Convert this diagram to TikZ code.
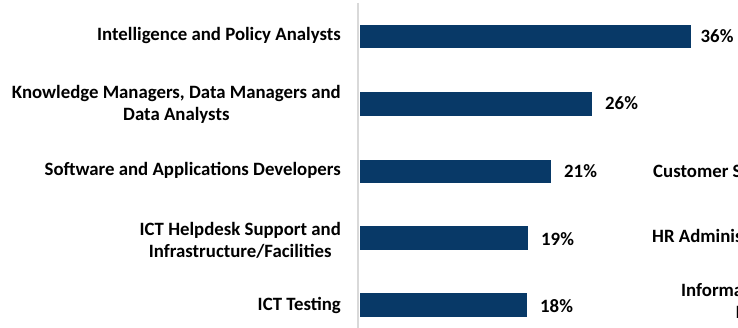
\documentclass[tikz,border=0pt]{standalone}
\usepackage{fontspec}
\setmainfont{Carlito}
\definecolor{barblue}{RGB}{8,57,103}
\definecolor{axisgray}{RGB}{217,217,217}
\begin{document}
\begin{tikzpicture}[x=1pt,y=-1pt,
  txt/.style={font=\fontsize{18.8}{22.5}\selectfont\bfseries, inner sep=0pt, align=center, text=black},
  bar/.style={fill=barblue, draw=none, inner sep=0pt, minimum height=23.5pt, anchor=west},
  pct/.style={txt, anchor=base west}]
\useasboundingbox (0,0) rectangle (738,328);
\clip (0,0) rectangle (738,328);
% axis
\coordinate (axtop) at (358,3);
\coordinate (axbot) at (358,328);
\draw[axisgray, line width=2pt] (axtop) -- (axbot);
% bars
\node[bar, minimum width=331pt] (b1) at (360,36.5) {};
\node[bar, minimum width=232pt] (b2) at (360,104) {};
\node[bar, minimum width=191pt] (b3) at (360,171.5) {};
\node[bar, minimum width=168pt] (b4) at (360,238) {};
\node[bar, minimum width=167pt] (b5) at (360,305) {};
% values
\node[pct] (v1) at (700.5,43) {36\%};
\node[pct] (v2) at (605,110) {26\%};
\node[pct] (v3) at (564,178) {21\%};
\node[pct] (v4) at (541,245.7) {19\%};
\node[pct] (v5) at (540,312.3) {18\%};
% category labels
\node[txt, anchor=base east] (l1) at (341,41) {Intelligence and Policy Analysts};
\node[txt, anchor=east] (l2) at (341,104.2) {Knowledge Managers, Data Managers and\\Data Analysts};
\node[txt, anchor=base east] (l3) at (341,176) {Software and Applications Developers};
\node[txt, anchor=east] (l4) at (341,240.3) {ICT Helpdesk Support and\\Infrastructure/Facilities};
\node[txt, anchor=base east] (l5) at (341,310) {ICT Testing};
% clipped labels of the neighbouring chart
\node[txt, anchor=base west] (r1) at (653,178) {Customer Service};
\node[txt, anchor=base west] (r2) at (652,243) {HR Administration};
\node[txt, anchor=base west] (r3) at (681,296.7) {Information};
\node[txt, anchor=base west] (r4) at (735.5,318) {I};
\end{tikzpicture}
\end{document}
